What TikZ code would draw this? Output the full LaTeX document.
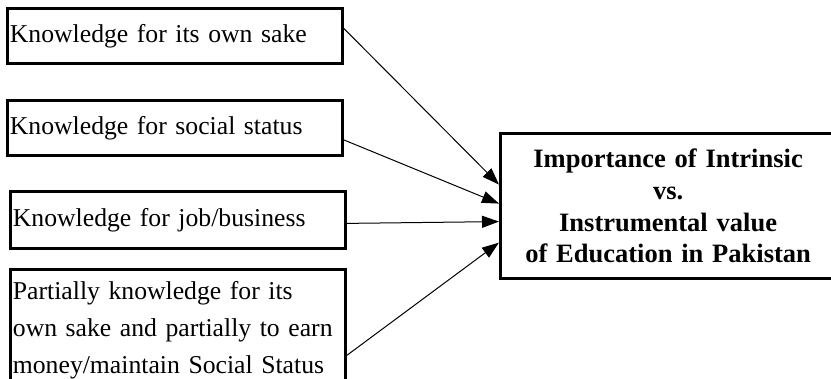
\documentclass[tikz,border=0pt]{standalone}
\usepackage{fontspec}
\setmainfont{Liberation Serif}
\usetikzlibrary{arrows.meta,calc}

\begin{document}
\begin{tikzpicture}[
    x=1pt, y=1pt,
    reason/.style={draw, line width=2.8pt, anchor=north west, inner xsep=2.5pt, inner ysep=0pt,
        minimum width=335pt, minimum height=#1, text width=330pt, align=left,
        font=\fontsize{25.7}{37}\selectfont},
    reason/.default=55pt,
    outcome/.style={draw, line width=3.2pt, anchor=north west, inner sep=0pt,
        minimum width=335pt, minimum height=145pt, text width=327pt, align=center,
        font=\fontsize{26.5}{31.7}\selectfont\bfseries},
    arr/.style={line width=1pt, -{Triangle[length=17pt,width=12pt]}}
]
% Canvas
\useasboundingbox (0,0) rectangle (831,379);
\clip (0,0) rectangle (831,379);

% Reasons
\node[reason] (own) at (6,372) {Knowledge for its own sake};
\node[reason] (status) at (6,280) {Knowledge for social status};
\node[reason=57pt] (job) at (9,189) {Knowledge for job/business};
\node[reason=122pt] (mixed) at (9,111) {Partially knowledge for its\\own sake and partially to earn\\money/maintain Social Status};

% Outcome
\node[outcome] (value) at (499,247) {Importance of Intrinsic\\vs.\\Instrumental value\\of Education in Pakistan};

% Arrows
\draw[arr] ($(own.east)+(0,7.5)$) -- ($(value.west)+(0,21.5)$);
\draw[arr] ($(status.east)+(0,-12)$) -- ($(value.west)+(0,2.5)$);
\draw[arr] ($(job.east)+(0,-3.5)$) -- ($(value.west)+(0,-15.5)$);
\draw[arr] ($(mixed.east)+(0,-25)$) -- ($(value.west)+(0,-36.5)$);

\end{tikzpicture}
\end{document}
